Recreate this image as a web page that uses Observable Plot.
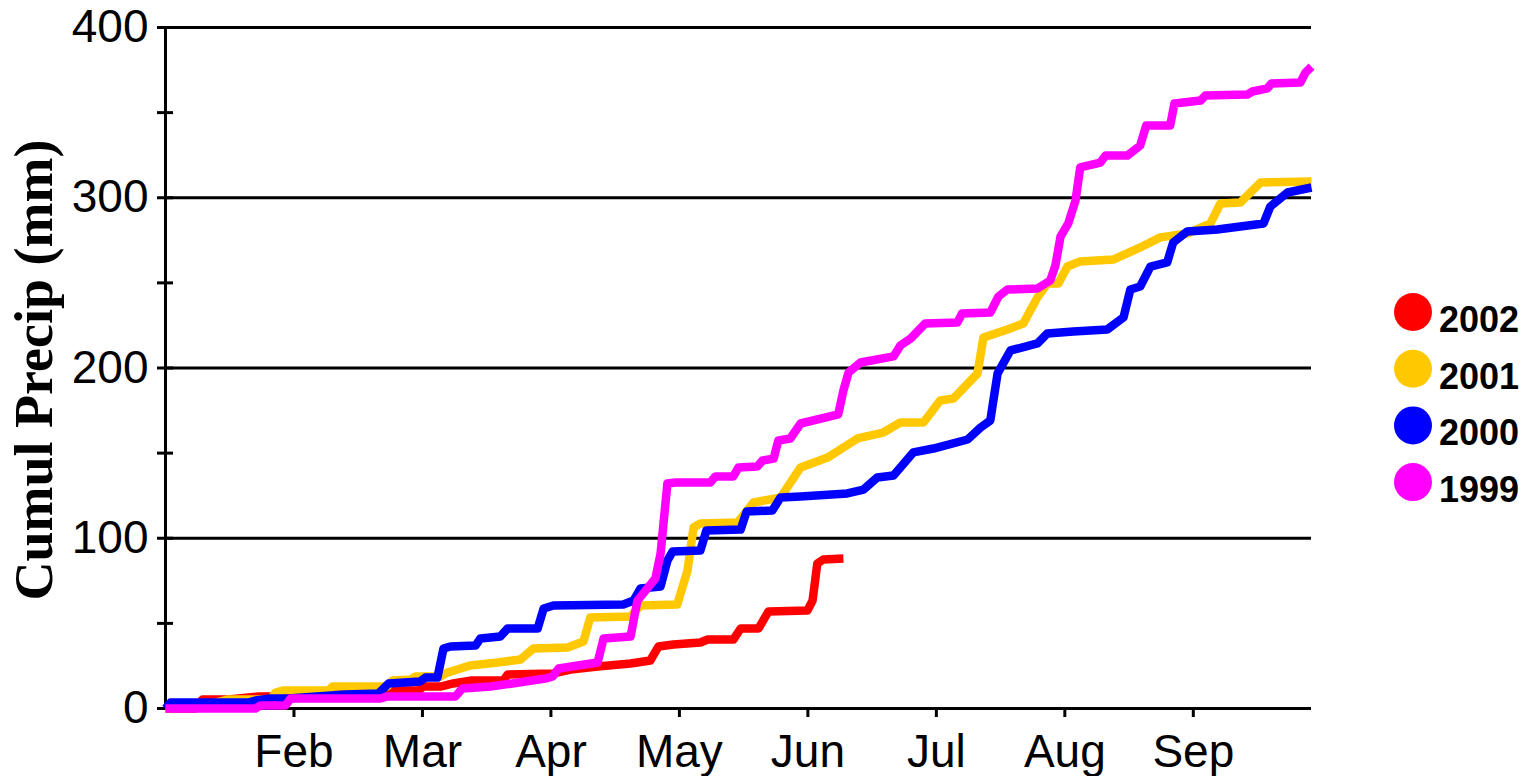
<!DOCTYPE html>
<html><head><meta charset="utf-8">
<script src="https://cdn.jsdelivr.net/npm/d3@7"></script>
<script src="https://cdn.jsdelivr.net/npm/@observablehq/plot@0.6"></script>
<style>
html,body{margin:0;padding:0;background:#fff;}
#wrap{position:relative;width:1528px;height:776px;overflow:hidden;}
</style></head><body><div id="wrap"></div>
<script>
// Series (legend order)
const years = ["2002", "2001", "2000", "1999"];
const colors = ["#FF0000", "#FFC800", "#0000FF", "#FF00FF"];

// x = day of season (ticks every 30 days), y = cumulative precipitation (mm)
const days2002 = [0,7,8.6,14.7,21.7,25.2,38.5,46.2,55.6,59.1,60.2,64.2,67.2,71.2,78.9,79.9,90.6,94.6,100.9,108.6,113.2,115.1,118.6,124.9,126.6,132.6,134.3,138.5,140.8,149.9,151.1,152.2,153.6,158.3];
const precip2002 = [0,0,5.3,5.3,7,7,8.8,8.8,10.6,10.6,12.9,12.9,14.7,16.4,16.4,20,20.6,22.9,24.7,26.4,28.2,36.4,37.6,38.8,40.5,40.5,47,47,57,57.6,63.4,85.2,87.5,88.1];

const days2001 = [0,8.2,14.7,24.5,25.7,27.6,38.1,39,51.8,53,57.2,58.4,64.2,65.8,68.9,71.2,77.5,82.9,85.9,93.9,97.6,99.2,108.6,110.9,119.5,121.9,123.3,124.9,133.6,137.3,143.6,148.3,154.6,161.6,167.6,171.6,177,180.9,184,189.6,191,196.6,200.3,203.6,205.9,208.5,210.6,213.6,221.3,227.6,232.3,238.6,244,246.3,251,255.7,267.6];
const precip2001 = [0,1.2,5.3,5.3,9.4,10.6,10.6,12.9,12.9,16.4,17,18.8,18.8,21.1,23.5,25.3,27,28.8,35.2,35.8,39.4,53.5,54,60.5,61.1,81.1,106.3,108.7,109.3,121,123.9,141.6,147.4,158.6,162.1,168,168,180.9,182.1,196.8,217.9,222.6,226.1,241.4,249.6,249.6,259.6,262.6,263.7,270.8,276.7,279,284.9,296.6,297.2,309,309.5];

const days2000 = [0,1.2,19.4,21,24.5,28.7,42,49.7,52.1,59.5,60.7,63.5,64.9,66.5,72.4,73.5,78.2,79.9,86.9,88.3,90.6,106.9,109.3,110.9,115.6,117.2,118.4,124.9,126.3,134.3,135.7,141.7,143.6,148.3,159.2,163,166.2,170,174.6,179.3,187.3,190.3,192.6,194.3,197.3,203.6,205.9,212,219.9,223.7,225.3,227.6,230,233.9,235.3,238.6,245.6,256.4,258,262,267.6];
const precip2000 = [0,3.5,3.5,4.7,5.9,5.9,8.2,8.8,14.7,15.9,18.2,18.2,35.2,36.4,37,41.1,42.3,47,47,58.7,60.5,61.1,63.4,70.5,71.7,86.9,92.2,92.8,104.6,105.1,115.7,116.3,123.9,124.5,126.3,128.6,135.7,136.9,150.4,152.7,158,165,169.2,196.8,210.3,214.4,220.3,221.4,222.6,229.7,246.1,247.9,259.6,262,273.7,280.2,281.4,284.9,294.9,303.1,306];

const days1999 = [0,21,22.2,28,29.2,50.2,51.6,67.7,69.3,75.9,81,88.7,90.4,91.8,100.9,102.3,108.6,110.2,114.4,115.6,117.2,119.1,127.2,128.4,132.6,133.8,138.2,139.4,142,143.1,145.9,148.3,157.1,158.3,159.5,162.3,170,171.6,174,177.4,184.9,186,192.6,194.5,196.6,203.6,206.6,207.8,209,210.8,212.5,213.6,218.3,219.5,224.6,227.6,229,234.6,235.6,241.7,242.8,252.6,253.8,257.3,258.2,265,266.2,267.6];
const precip1999 = [0,0,1.8,1.8,5.9,5.9,7,7,11.7,12.9,14.7,17.6,18.8,23.5,27,41.1,42.3,63.4,76.4,91,132.2,132.7,132.7,136.3,136.3,141.6,142.1,145.7,146.8,157.4,158.6,167.4,172.7,186.8,197.4,203.2,206.8,213.2,217.3,226.1,226.7,232,232.6,242,246.1,246.7,251.4,260.2,277.2,284.9,298.4,317.8,320.7,324.8,324.8,330.7,342.4,342.4,355.4,357.1,360,360.6,362.4,364.2,367.1,367.7,373.6,377];

// Axes
const monthTicks = [30, 60, 90, 120, 150, 180, 210, 240];
const monthLabels = ["Feb", "Mar", "Apr", "May", "Jun", "Jul", "Aug", "Sep"];
const yLabelTicks = [0, 100, 200, 300, 400];
const yMinorTicks = [0, 50, 100, 150, 200, 250, 300, 350, 400];
const gridValues = [100, 200, 300, 400];
const yTitle = "Cumul Precip (mm)";

const seriesDays = [days2002, days2001, days2000, days1999];
const seriesPrecip = [precip2002, precip2001, precip2000, precip1999];
const rows = years.map((year, k) => seriesDays[k].map((d, i) => ({year, day: d, precip: seriesPrecip[k][i]})));

const chart = Plot.plot({
  width: 1528, height: 776,
  marginLeft: 165, marginRight: 217, marginTop: 27, marginBottom: 68,
  style: {background: "white", color: "black", fontFamily: "'Liberation Sans', Arial, sans-serif", fontSize: "46px", overflow: "visible"},
  x: {domain: [0, 267.6]},
  y: {domain: [0, 400]},
  color: {domain: years, range: colors},
  marks: [
    Plot.gridY(gridValues, {stroke: "black", strokeOpacity: 1, strokeWidth: 3}),
    Plot.ruleY([0], {stroke: "black", strokeWidth: 3}),
    Plot.ruleX([0], {stroke: "black", strokeWidth: 3}),
    Plot.axisY(yMinorTicks, {tickSize: 16, dx: 8, strokeWidth: 3, tickFormat: () => "", label: null}),
    Plot.axisY(yLabelTicks, {tickSize: 0, tickPadding: 17, fontSize: 46, label: null}),
    Plot.axisX(monthTicks, {tickSize: 9, tickPadding: 17, strokeWidth: 3, fontSize: 46, label: null,
      tickFormat: d => monthLabels[monthTicks.indexOf(d)]}),
    ...rows.map(r => Plot.line(r, {x: "day", y: "precip", stroke: "year", strokeWidth: 8.5, strokeLinejoin: "round", strokeLinecap: "butt"}))
  ]
});

const svg = d3.select(chart);
// y-axis title
svg.append("text")
  .attr("transform", "translate(52,370) rotate(-90)")
  .attr("text-anchor", "middle")
  .style("font", "bold 54px 'Liberation Serif', 'Times New Roman', serif")
  .attr("fill", "black")
  .text(yTitle);

// legend
const leg = svg.append("g").attr("text-anchor", "start");
years.forEach((y, i) => {
  const cy = 312 + i * 56.7;
  leg.append("circle").attr("cx", 1413).attr("cy", cy).attr("r", 19).attr("fill", colors[i]);
  leg.append("text").attr("x", 1439).attr("y", cy + 20).attr("text-anchor", "start")
    .style("font", "bold 36px 'Liberation Sans', Arial, sans-serif")
    .attr("fill", "black").text(y);
});

document.getElementById("wrap").appendChild(chart);
</script>
</body></html>
